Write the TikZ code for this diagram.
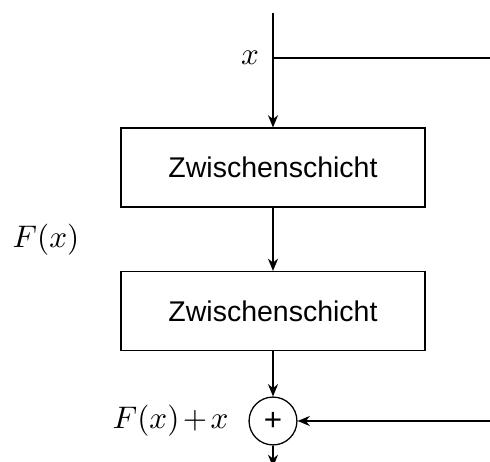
\documentclass[tikz,border=0pt]{standalone}
\usepackage{fontspec}
\setsansfont{Liberation Sans}
\usetikzlibrary{arrows.meta}
\begin{document}
\begin{tikzpicture}[x=0.3509pt,y=-0.3509pt,
  layer/.style={draw,line width=0.4pt,minimum width=106.7pt,minimum height=27.7pt,inner sep=0pt,font=\sffamily\fontsize{10}{12}\selectfont},
  sumnode/.style={draw,circle,line width=0.45pt,minimum size=16.8pt,inner sep=0pt,font=\sffamily\fontsize{11}{12}\selectfont},
  conn/.style={line width=0.7pt},
  arr/.style={conn,-{Stealth[length=4.3pt,width=3.5pt]}},
  mlabel/.style={inner sep=0pt,font=\fontsize{11.4}{13}\selectfont}]
\useasboundingbox (0,0) rectangle (490,462);
\coordinate (top) at (273,13);
\coordinate (split) at (273,58);
\coordinate (rtop) at (492,58);
\coordinate (rbot) at (492,421);
\coordinate (bot) at (273,467);
\node[layer] (l1) at (273,167.5) {Zwischenschicht};
\node[layer] (l2) at (273,311) {Zwischenschicht};
\node[sumnode] (sum) at (273,421) {+};
\node[mlabel] (lx) at (250,58) {$x$};
\node[mlabel] (lf) at (46,240) {$F(x)$};
\node[mlabel,anchor=east] (lfx) at (229,421) {\medmuskip=2mu $F(x)+x$};
\draw[arr] (top) -- (l1.north);
\draw[conn] (split) -- (rtop);
\draw[arr] (l1.south) -- (l2.north);
\draw[arr] (l2.south) -- (sum.north);
\draw[arr] (rbot) -- (sum.east);
\draw[arr] (sum.south) -- (bot);
\end{tikzpicture}
\end{document}
